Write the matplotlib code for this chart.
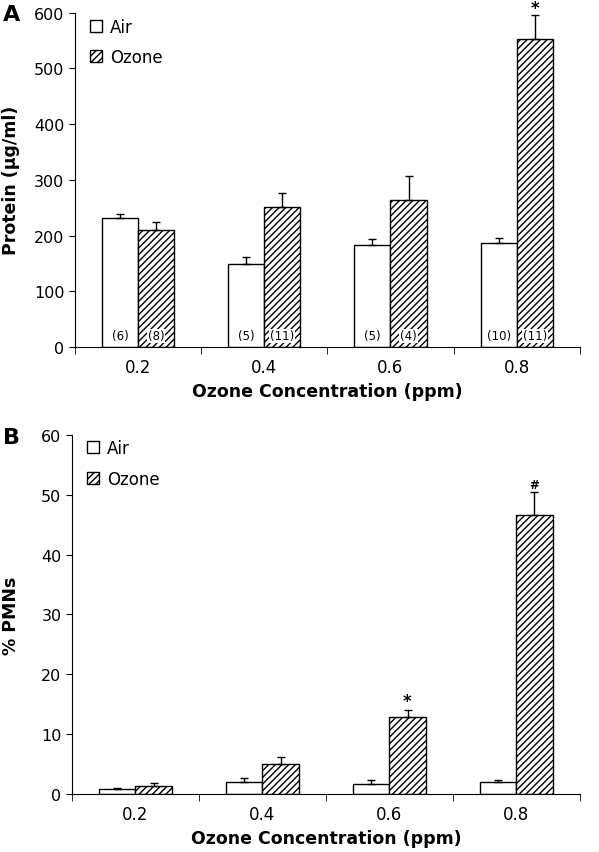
import numpy as np
import matplotlib
matplotlib.use('Agg')
import matplotlib.pyplot as plt

plt.rcParams['font.family'] = 'DejaVu Sans'
plt.rcParams['hatch.linewidth'] = 1.0

conc = ['0.2', '0.4', '0.6', '0.8']

protein_air = [231, 149, 183, 186]
protein_air_err = [7, 12, 10, 9]
protein_ozone = [210, 252, 263, 552]
protein_ozone_err = [14, 24, 44, 43]
n_air = ['(6)', '(5)', '(5)', '(10)']
n_ozone = ['(8)', '(11)', '(4)', '(11)']

pmn_air = [0.9, 2.0, 1.6, 2.0]
pmn_air_err = [0.1, 0.6, 0.7, 0.4]
pmn_ozone = [1.3, 5.0, 12.9, 46.6]
pmn_ozone_err = [0.5, 1.2, 1.2, 3.8]

fig = plt.figure(figsize=(5.99, 8.53), dpi=100)
axA = fig.add_axes([0.125, 0.592, 0.843, 0.392])
axB = fig.add_axes([0.120, 0.068, 0.848, 0.421])

x = np.arange(len(conc))
w = 0.286


def draw(ax, air, air_err, oz, oz_err, ymax, ystep, ylabel, ylab_x):
    ax.bar(x - w / 2, air, w, color='white', edgecolor='black', linewidth=1.0,
           label='Air', zorder=2)
    ax.bar(x + w / 2, oz, w, color='white', edgecolor='black', linewidth=1.0,
           hatch='/////', label='Ozone', zorder=2)
    ax.errorbar(x - w / 2, air, yerr=[np.zeros(4), air_err], fmt='none',
                ecolor='black', elinewidth=1.0, capsize=3, capthick=1.0, zorder=3)
    ax.errorbar(x + w / 2, oz, yerr=[np.zeros(4), oz_err], fmt='none',
                ecolor='black', elinewidth=1.0, capsize=3, capthick=1.0, zorder=3)
    ax.set_xlim(-0.5, 3.5)
    ax.set_ylim(0, ymax)
    ax.set_yticks(np.arange(0, ymax + 1, ystep))
    ax.set_xticks(x)
    ax.set_xticklabels(conc, fontsize=12)
    ax.set_xticks(np.arange(-0.5, 3.6, 1), minor=True)
    ax.tick_params(axis='x', which='major', length=0, pad=8)
    ax.tick_params(axis='x', which='minor', length=5, direction='out')
    ax.tick_params(axis='y', labelsize=11.5, length=4, direction='out')
    for s in ['top', 'right']:
        ax.spines[s].set_visible(False)
    ax.set_xlabel('Ozone Concentration (ppm)', fontsize=12.5, fontweight='bold', labelpad=4)
    ax.set_ylabel(ylabel, fontsize=12.5, fontweight='bold')
    ax.yaxis.set_label_coords(ylab_x, 0.5)
    ax.legend(loc='upper left', bbox_to_anchor=(0.0, 1.03), frameon=False,
              fontsize=12, handlelength=0.75, handleheight=0.75,
              handletextpad=0.45, labelspacing=0.75)


draw(axA, protein_air, protein_air_err, protein_ozone, protein_ozone_err,
     600, 100, 'Protein (\u03bcg/ml)', -0.108)
draw(axB, pmn_air, pmn_air_err, pmn_ozone, pmn_ozone_err,
     60, 10, '% PMNs', -0.102)

for i in range(4):
    axA.text(x[i] - w / 2, 20, n_air[i], ha='center', va='center', fontsize=8.5,
             bbox=dict(facecolor='white', edgecolor='none', pad=0.5), zorder=4)
    axA.text(x[i] + w / 2, 20, n_ozone[i], ha='center', va='center', fontsize=8.5,
             bbox=dict(facecolor='white', edgecolor='none', pad=0.5), zorder=4)

axA.text(x[3] + w / 2, protein_ozone[3] + protein_ozone_err[3] + 13, '*',
         ha='center', va='center', fontsize=12, fontweight='bold', clip_on=False)
axB.text(x[2] + w / 2, pmn_ozone[2] + pmn_ozone_err[2] + 1.4, '*',
         ha='center', va='center', fontsize=12, fontweight='bold', clip_on=False)
axB.text(x[3] + w / 2, pmn_ozone[3] + pmn_ozone_err[3] + 1.3, '#',
         ha='center', va='center', fontsize=8.5, fontweight='bold', clip_on=False)

fig.text(0.005, 0.983, 'A', fontsize=16, fontweight='bold', va='center')
fig.text(0.005, 0.487, 'B', fontsize=16, fontweight='bold', va='center')

fig.savefig('out.png', dpi=100)
